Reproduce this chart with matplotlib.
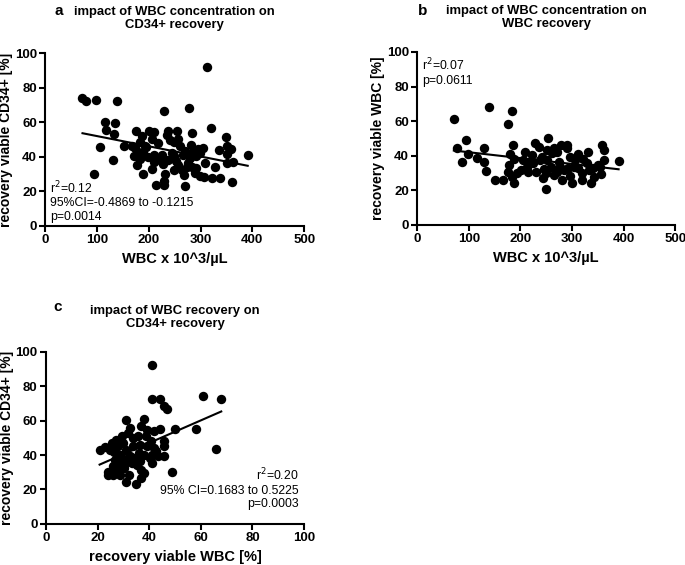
import numpy as np
import matplotlib
matplotlib.use("Agg")
import matplotlib.pyplot as plt

plt.rcParams['font.family'] = ['Liberation Sans', 'DejaVu Sans']

# panel a: WBC concentration vs CD34+ recovery
wbc_a = [72, 78, 99, 139, 115, 117, 134, 132, 153, 106, 131, 95, 230, 277, 313, 321, 349, 284,
         176, 201, 210, 237, 254, 257, 236, 248, 206, 187, 183, 167, 172, 179, 188, 178, 183, 189,
         211, 210, 226, 228, 231, 213, 229, 229, 245, 249, 252, 248, 266, 265, 268, 269, 282, 279,
         291, 289, 304, 295, 299, 306, 322, 337, 335, 361, 352, 359, 352, 352, 363, 391, 328, 260,
         269, 241, 195, 198, 218, 222, 237, 257, 276, 283, 273, 292, 308, 286, 299, 173, 193, 207]
cd34_a = [74, 72.4, 72.6, 72.4, 60.4, 55.6, 59.8, 53.3, 46.3, 45.8, 38.4, 30, 66.6, 68, 92, 56.8,
          51.7, 53.7, 55.2, 55.2, 54.4, 55, 55, 50.2, 52.7, 48.5, 50.2, 52.3, 48.8, 46.3, 40.7, 43,
          43, 35.5, 38.6, 30, 41.3, 36.9, 41.3, 35.7, 30, 23.7, 26, 23.7, 42.5, 40.2, 37.5, 32.4,
          41.1, 32.4, 29.7, 23.4, 46.7, 39.2, 40.2, 30.5, 45.2, 44.4, 29.2, 28.6, 27.6, 27.6, 44,
          25.7, 46.5, 44.6, 41.9, 36.3, 37.3, 41.3, 34.4, 46, 43.6, 49.8, 45.9, 39.8, 47.9, 38.2,
          38.2, 35.3, 36.3, 34.4, 34.4, 33.4, 36.3, 43, 42, 45, 46, 33.2]

# panel b: WBC concentration vs WBC recovery
wbc_b = [71, 78, 87, 94, 98, 115, 130, 130, 134, 139, 151, 167, 176, 184, 186, 180, 178, 175, 183,
         187, 193, 187, 204, 209, 212, 215, 222, 229, 225, 231, 235, 242, 246, 244, 251, 254, 252,
         249, 260, 264, 270, 274, 278, 290, 285, 280, 296, 303, 295, 299, 291, 311, 319, 330, 329,
         336, 320, 351, 358, 362, 355, 361, 354, 390, 340, 332, 311, 261, 238, 218, 202, 270, 277,
         306, 321, 342, 293, 250, 264]
wbcrec_b = [61, 44.2, 36.2, 49, 41.2, 38.7, 44.2, 36.2, 31.3, 67.9, 26, 26, 58.3, 66, 46, 41, 34.6,
            30.4, 27.9, 24, 29.8, 37.9, 37.5, 42.3, 33.7, 30.8, 40.4, 47.1, 35.6, 30.8, 45.2, 39.4,
            32.1, 26.9, 43.3, 50.4, 37.5, 21, 33.7, 28.8, 42.3, 36.5, 46, 46, 31.7, 26, 39.4, 33.7,
            28, 24.4, 44.2, 40.8, 29.8, 42.3, 36, 24, 26, 34.8, 46, 43.3, 29.2, 37.5, 33.7, 37.1,
            32.7, 31.7, 32.7, 41.3, 37.5, 35.6, 31.7, 30.8, 33.7, 37.5, 37.9, 27.9, 32.7, 29.8, 44.2]

# panel c: WBC recovery vs CD34+ recovery
wbcrec_c = [41, 41, 44, 45.8, 46.8, 60.8, 67.9, 58, 50, 65.7, 49, 20.8, 23, 31, 37.8, 36.9, 44, 42,
            45.9, 45.9, 45.9, 43.6, 41, 41.2, 32.6, 31.7, 29.4, 27.2, 25.5, 24.9, 26.5, 28.1, 30,
            28.8, 31.1, 33.9, 35.6, 36.5, 38.8, 39.1, 35.9, 37.8, 39.1, 34.3, 33.3, 35.2, 36.5, 32.6,
            23.9, 23.9, 25.9, 27.5, 28.8, 30.1, 28.1, 31.1, 32, 34.8, 36.9, 36.8, 37.8, 42.6, 40.7,
            30.7, 26.8, 25.8, 31.6, 29.4, 40.4, 41.7, 33.7, 28.1]
cd34_c = [92.5, 72.9, 72.5, 68.3, 66.9, 74.1, 72.5, 55.3, 55.3, 43.5, 30.4, 42.9, 44.7, 60.2, 61,
          56.7, 55.1, 53.8, 48, 45.1, 39.3, 39.3, 40.2, 35.4, 55.7, 52.8, 50.9, 48.9, 47, 43.1, 41.6,
          45.1, 47, 40.2, 43.1, 45.1, 50.9, 46, 50.9, 54.7, 41.2, 40.2, 45.1, 38.3, 35.4, 34.4, 36.4,
          39.3, 30, 28.2, 28.6, 30.6, 28.6, 32.5, 33.5, 24.2, 28.6, 23.4, 26.7, 31.5, 29.6, 42.6, 48,
          35.4, 37.3, 33.5, 38.3, 37.3, 38.3, 44, 50, 38.3]

fig = plt.figure(figsize=(6.85, 5.65), dpi=100)


def panel(rect, x, y, xmax, xlabel, ylabel, title):
    ax = fig.add_axes(rect)
    ax.scatter(x, y, s=46, color='black', zorder=3, linewidths=0)
    # linear regression line over the data range
    k, b = np.polyfit(x, y, 1)
    xx = np.array([min(x), max(x)])
    ax.plot(xx, k * xx + b, color='black', lw=1.5, zorder=4)
    ax.set_xlim(0, xmax)
    ax.set_ylim(0, 100)
    ax.set_xticks(np.linspace(0, xmax, 6))
    ax.set_yticks([0, 20, 40, 60, 80, 100])
    for s in ['top', 'right']:
        ax.spines[s].set_visible(False)
    for s in ['left', 'bottom']:
        ax.spines[s].set_linewidth(1.5)
    ax.tick_params(width=1.5, length=4, labelsize=9.5, pad=2)
    for lab in ax.get_xticklabels() + ax.get_yticklabels():
        lab.set_fontweight('bold')
    ax.set_xlabel(xlabel, fontsize=10.5, fontweight='bold', labelpad=4)
    ax.set_ylabel(ylabel, fontsize=10, fontweight='bold', labelpad=1)
    ax.set_title(title, fontsize=9.4, fontweight='bold', pad=18, linespacing=1.15)
    return ax


ax_a = panel([0.066, 0.600, 0.378, 0.306], wbc_a, cd34_a, 500,
             'WBC x 10^3/µL', 'recovery viable CD34+ [%]',
             'impact of WBC concentration on\nCD34+ recovery')
ax_a.text(0.02, 0.27, 'r$^2$=0.12\n95%CI=-0.4869 to -0.1215\np=0.0014', transform=ax_a.transAxes,
          fontsize=8.8, va='top', ha='left', linespacing=1.15)

ax_b = panel([0.609, 0.602, 0.377, 0.306], wbc_b, wbcrec_b, 500,
             'WBC x 10^3/µL', 'recovery viable WBC [%]',
             'impact of WBC concentration on\nWBC recovery')
ax_b.text(0.02, 0.97, 'r$^2$=0.07\np=0.0611', transform=ax_b.transAxes,
          fontsize=8.8, va='top', ha='left', linespacing=1.15)

ax_c = panel([0.067, 0.073, 0.377, 0.304], wbcrec_c, cd34_c, 100,
             'recovery viable WBC [%]', 'recovery viable CD34+ [%]',
             'impact of WBC recovery on\nCD34+ recovery')
ax_c.text(0.98, 0.33, 'r$^2$=0.20\n95% CI=0.1683 to 0.5225\np=0.0003', transform=ax_c.transAxes,
          fontsize=8.8, va='top', ha='right', linespacing=1.15)

fig.text(59 / 685, 1 - 11 / 565, 'a', fontsize=11, fontweight='bold', ha='center', va='center')
fig.text(423 / 685, 1 - 11 / 565, 'b', fontsize=11, fontweight='bold', ha='center', va='center')
fig.text(58 / 685, 1 - 307 / 565, 'c', fontsize=11, fontweight='bold', ha='center', va='center')

fig.savefig('out.png', dpi=100)
